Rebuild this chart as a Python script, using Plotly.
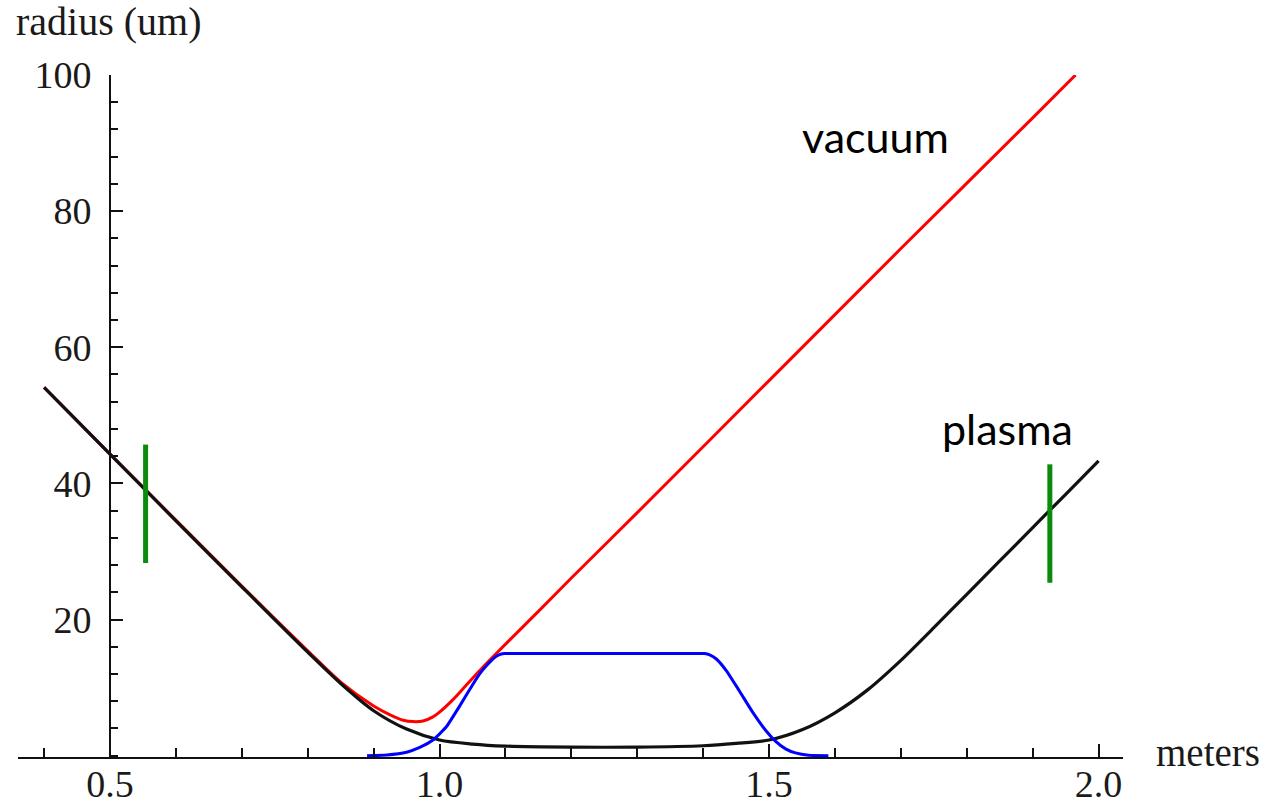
import plotly.graph_objects as go

# Beam envelope along the beamline (z in meters, radius in um)
vac_z = [0.40, 0.50, 0.60, 0.70, 0.80, 0.85, 0.90, 0.925, 0.945, 0.96, 0.975, 0.99, 1.00, 1.02, 1.04, 1.06, 1.086, 1.12, 1.15, 1.20, 1.30, 1.50, 1.70, 1.90, 1.965]
vac_r = [54.1, 44.3, 34.6, 24.9, 15.4, 10.8, 7.3, 6.0, 5.2, 5.0, 5.1, 5.7, 6.4, 8.2, 10.3, 12.4, 15.0, 18.3, 21.2, 26.1, 35.7, 55.1, 74.5, 93.7, 100.0]

pla_z = [0.40, 0.50, 0.60, 0.70, 0.80, 0.85, 0.90, 0.95, 1.00, 1.05, 1.10, 1.20, 1.30, 1.40, 1.45, 1.50, 1.55, 1.60, 1.65, 1.70, 1.75, 1.80, 1.85, 1.90, 1.95, 2.00]
pla_r = [54.1, 44.3, 34.5, 24.8, 15.2, 10.6, 6.6, 3.9, 2.3, 1.7, 1.4, 1.25, 1.25, 1.45, 1.8, 2.3, 3.8, 6.3, 9.7, 14.0, 18.8, 23.7, 28.6, 33.5, 38.4, 43.3]

# Plasma density profile (scaled)
den_z = [0.89, 0.92, 0.95, 0.97, 0.99, 1.01, 1.03, 1.045, 1.06, 1.072, 1.082, 1.09, 1.098, 1.11, 1.39, 1.402, 1.41, 1.42, 1.435, 1.455, 1.475, 1.495, 1.51, 1.525, 1.54, 1.56, 1.59]
den_r = [0.0, 0.1, 0.5, 1.2, 2.3, 4.2, 7.2, 9.6, 11.9, 13.3, 14.3, 14.8, 15.0, 15.0, 15.0, 15.0, 14.8, 14.2, 12.5, 9.5, 6.4, 3.7, 2.1, 1.0, 0.4, 0.05, 0.0]

# Marker bars (z, r_low, r_high)
bar_z = [0.554, 1.926]
bar_lo = [28.3, 25.4]
bar_hi = [45.7, 42.8]

x_ticks = [0.5, 1.0, 1.5, 2.0]
y_ticks = [20, 40, 60, 80, 100]

serif = "Liberation Serif, Times New Roman, serif"
sans = "Lato, Open Sans, sans-serif"
ink = "#1a1a1a"

fig = go.Figure()
fig.add_trace(go.Scatter(x=vac_z, y=vac_r, mode="lines",
                         line=dict(color="#ff0000", width=3, shape="spline", smoothing=0.8)))
fig.add_trace(go.Scatter(x=pla_z, y=pla_r, mode="lines",
                         line=dict(color="#111111", width=3.2, shape="spline", smoothing=0.8)))
fig.add_trace(go.Scatter(x=den_z, y=den_r, mode="lines",
                         line=dict(color="#0000ff", width=3, shape="spline", smoothing=0.5)))

gx, gy = [], []
for z, lo, hi in zip(bar_z, bar_lo, bar_hi):
    gx += [z, z, None]
    gy += [lo, hi, None]
fig.add_trace(go.Scatter(x=gx, y=gy, mode="lines",
                         line=dict(color="#0c8a0c", width=5)))

fig.update_layout(
    width=1266, height=804,
    margin=dict(l=18, r=143, t=75, b=47),
    paper_bgcolor="white", plot_bgcolor="white",
    showlegend=False,
    xaxis=dict(
        range=[0.3604, 2.037], showgrid=False, zeroline=False, automargin=False,
        showline=True, linecolor="#111111", linewidth=2,
        ticks="inside", ticklen=13, tickwidth=2, tickcolor="#111111",
        tickvals=x_ticks, ticktext=[f"{v:.1f}" for v in x_ticks],
        minor=dict(dtick=0.1, tick0=0.0, ticks="inside", ticklen=9, tickwidth=2, tickcolor="#111111"),
        tickfont=dict(family=serif, size=38, color=ink),
        ticklabelstandoff=-8,
    ),
    yaxis=dict(
        range=[-0.2, 100], showgrid=False, zeroline=False, automargin=False,
        anchor="free", position=0.0833,
        showline=True, linecolor="#111111", linewidth=2,
        ticks="inside", ticklen=12, tickwidth=2, tickcolor="#111111",
        tickvals=y_ticks, ticktext=[str(v) for v in y_ticks],
        minor=dict(dtick=4, tick0=0, ticks="inside", ticklen=7, tickwidth=2, tickcolor="#111111"),
        tickfont=dict(family=serif, size=38, color=ink),
        ticklabelstandoff=10,
    ),
    annotations=[
        dict(text="radius (um)", xref="paper", yref="paper", x=-0.004, y=1.078,
             xanchor="left", yanchor="middle", showarrow=False,
             font=dict(family=serif, size=40, color=ink)),
        dict(text="meters", xref="paper", yref="paper", x=1.028, y=0.0073,
             xanchor="left", yanchor="middle", showarrow=False,
             font=dict(family=serif, size=39, color=ink)),
        dict(text="vacuum", xref="x", yref="y", x=1.661, y=91.0,
             xanchor="center", yanchor="middle", showarrow=False,
             font=dict(family=sans, size=43, color="#000000")),
        dict(text="plasma", xref="x", yref="y", x=1.862, y=48.0,
             xanchor="center", yanchor="middle", showarrow=False,
             font=dict(family=sans, size=43, color="#000000")),
    ],
)

fig.write_html("out.html")
